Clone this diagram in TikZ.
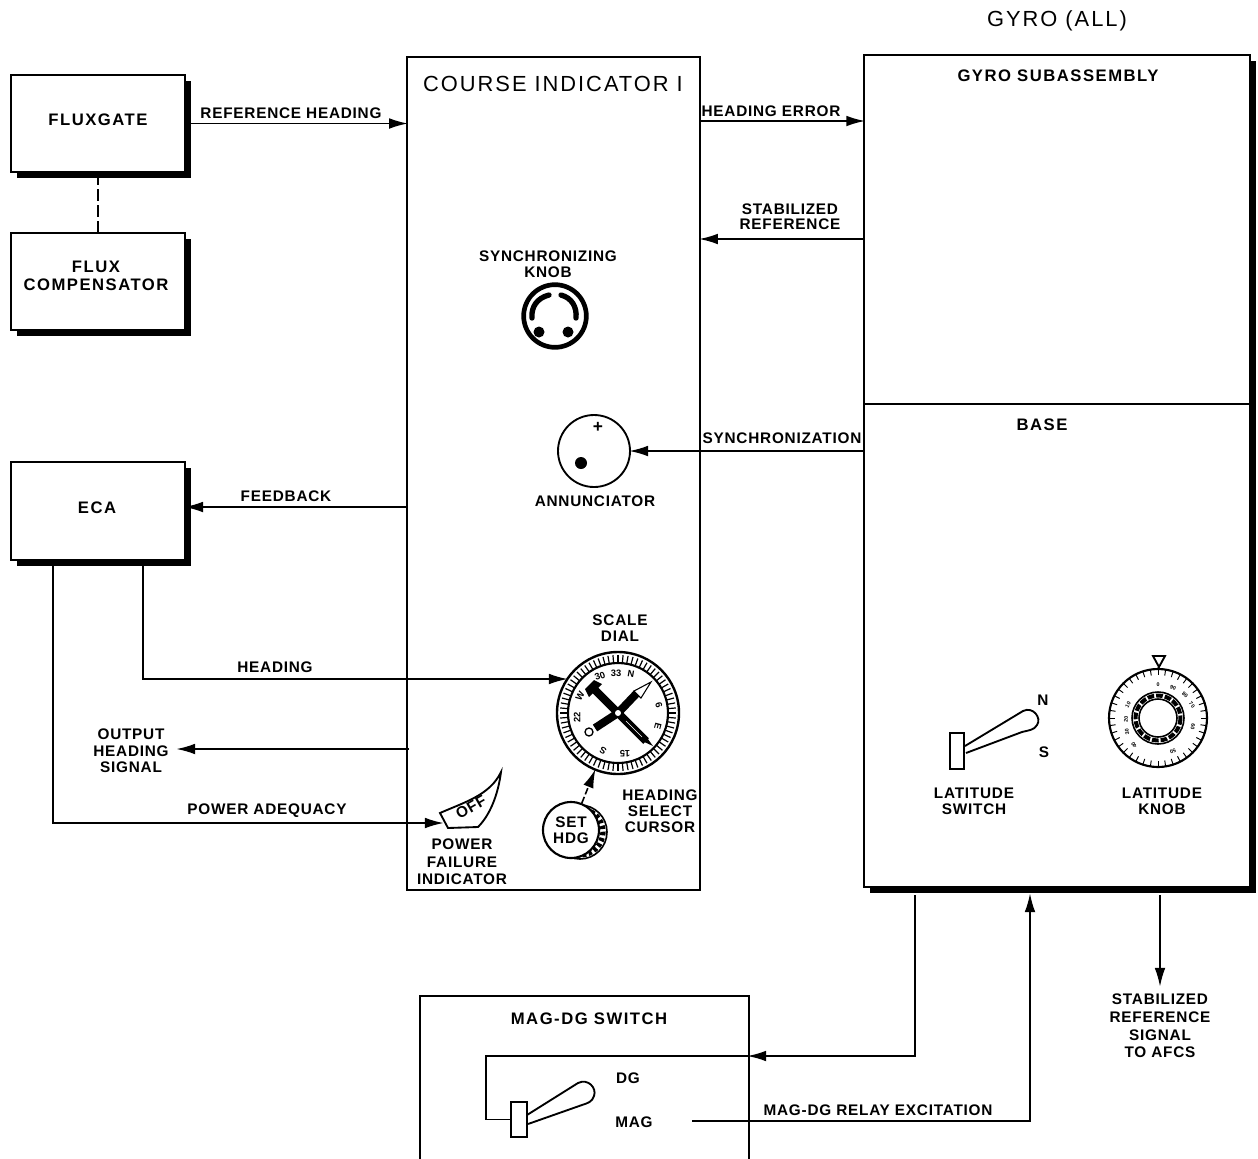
\documentclass[tikz,border=0pt]{standalone}
\usepackage{fontspec}
\setmainfont{Liberation Sans}
\newfontfamily\lblfont[LetterSpace=5]{Liberation Sans}
\newfontfamily\ttlfont[LetterSpace=9]{Liberation Sans}
\usetikzlibrary{positioning,arrows.meta,shadows}
\tikzset{
box/.style={draw, line width=1.4pt, fill=white, minimum width=130.5pt, minimum height=73pt},
shadowbox/.style={box, general shadow={shadow xshift=4.5pt, shadow yshift=-4.5pt, fill=black}},
lbl/.style={font=\lblfont\bfseries\fontsize{11.5}{12}\selectfont, align=center, inner sep=0pt},
ttl/.style={lbl, font=\ttlfont\bfseries\fontsize{12.5}{13.5}\selectfont},
bigttl/.style={lbl, font=\ttlfont\fontsize{16.4}{17}\selectfont},
dialnum/.style={font=\bfseries\fontsize{7}{8}\selectfont, inner sep=0pt},
knobnum/.style={font=\bfseries\fontsize{4}{5}\selectfont, inner sep=0pt},
arrow/.style={-{Latex[length=14pt,width=8pt]}, line width=1.2pt, shorten >=-1.2pt},
wire/.style={line width=1.2pt}
}

\begin{document}
\begin{tikzpicture}[x=0.75pt,y=-0.75pt,node distance=44pt]
\path[use as bounding box,clip] (0,0) rectangle (1258,1158);
% boxes
\node[shadowbox](fluxgate) at (98,123.5){};
\node[shadowbox,below=of fluxgate](comp){};
\node[shadowbox](eca) at (98,511){};
\node[box,minimum width=219.5pt,minimum height=625pt](ci) at (553.5,473.5){};
\node[shadowbox,minimum width=289pt,minimum height=624pt](gyro) at (1057,471){};
\node[box,minimum width=247pt,minimum height=170pt](magsw) at (584.5,1109){};
\draw[wire](gyro.west |- 0,404)--(gyro.east |- 0,404);
% box titles
\node[ttl](fluxgatetxt) at (98,120){FLUXGATE};
\node[ttl](comptxt) at (96,276){FLUX\\COMPENSATOR};
\node[ttl](ecatxt) at (97,508){ECA};
\node[bigttl](citxt) at (553,84){COURSE INDICATOR I};
\node[bigttl](gyroall) at (1057,21){GYRO (ALL)};
\node[ttl](gyrosub) at (1058,76){GYRO SUBASSEMBLY};
\node[ttl](basetxt) at (1042,425){BASE};
\node[ttl](magtxt) at (589,1019){MAG-DG SWITCH};
% controls on course indicator
\node[lbl](synctxt) at (548,264){SYNCHRONIZING\\KNOB};
\node[draw,circle,line width=3.5pt,minimum size=47pt,inner sep=0pt](syncknob) at (555,316){};
\draw[line width=4pt,line cap=round](549,295) .. controls (537,298) and (531,307) .. (532,318);
\draw[line width=4pt,line cap=round](561,295) .. controls (572,298) and (577,307) .. (576,318);
\fill(539,332) circle (5.5) (568,332) circle (5.5);
\node[draw,circle,line width=1.4pt,minimum size=54pt,inner sep=0pt](ann) at (594,451){};
\node[font=\bfseries\fontsize{13}{13}\selectfont,inner sep=0pt](annplus) at (598,427){+};
\fill(581,463) circle (6);
\node[lbl](anntxt) at (595,501){ANNUNCIATOR};
\node[lbl](dialtxt) at (620,628){SCALE\\DIAL};
% scale dial
\node[draw,circle,line width=1.8pt,minimum size=91.5pt,inner sep=0pt](dial) at (618,713){};
\begin{scope}[shift={(618,713)}]
\draw[line width=1.6pt](0,0) circle (50);
\foreach \a in {0,5,...,355}
\draw[line width=.9pt](\a:50)--(\a:58);
\draw[line width=6pt](0,0)--(28,28);
\draw[line width=6pt](0,0)--(-26,-26);
\draw[line width=6pt](0,0)--(19,-20);
\draw[line width=6pt](0,0)--(-23,15);
\fill(-33,-24)--(-24,-33)--(-16,-29)--(-29,-16)--cycle;
\fill[white,draw=black,line width=.8pt](16,-22)--(33,-31)--(23,-15)--cycle;
\draw[line width=1pt,fill=white](-29,19) circle (4);
\fill(27,22)--(35,33)--(22,27)--cycle;
\draw[white,line width=.5pt](8,8)--(24,24);
\fill[white](0,0) circle (3);
\end{scope}
\foreach \t/\px/\py/\r in {33/616/673/0,N/631/674/-10,30/600/676/20,W/580/696/60,22/577/717/90,S/603/751/150,15/625/754/180,E/658/726/-105,6/659/705/-75}
\node[dialnum,rotate=\r](dn\t) at (\px,\py){\t};
% set knob
\draw[line width=1.2pt](580,832) circle (27);
\draw[line width=4pt,dash pattern=on 2.5pt off 2pt](580,832) circle (23);
\node[draw,circle,line width=1.6pt,fill=white,minimum size=42pt,inner sep=0pt,lbl](setknob) at (571,830){SET\\HDG};
\node[lbl](cursortxt) at (660,811){HEADING\\SELECT\\CURSOR};
\draw[arrow,dash pattern=on 5pt off 2pt](setknob)--(dial);
% power failure flag
\draw[line width=1.4pt](440,813) .. controls (465,802) and (490,795) .. (501,772) .. controls (498,795) and (490,815) .. (478,827)--(448,828)--cycle;
\node[lbl,rotate=30](offtxt) at (471,807){OFF};
\coordinate(offin) at (442,823);
\node[lbl,font=\lblfont\bfseries\fontsize{11.5}{13}\selectfont](pwrtxt) at (462,862){POWER\\FAILURE\\INDICATOR};
% latitude switch and knob
\node[draw,line width=1.4pt,minimum width=11pt,minimum height=27pt,inner sep=0pt](latbase) at (957,751){};
\draw[line width=1.4pt](965,746)--(1023,711) .. controls (1033,706) and (1042,718) .. (1037,725) .. controls (1034,730) and (1030,730) .. (1022,732)--(966,753);
\node[lbl](nmark) at (1043,700){N};
\node[lbl](smark) at (1044,752){S};
\node[lbl](latsw) at (974,801){LATITUDE\\SWITCH};
\node[lbl](latkn) at (1162,801){LATITUDE\\KNOB};
\node[draw,circle,line width=1.6pt,minimum size=73.5pt,inner sep=0pt](knob) at (1158,718){};
\begin{scope}[shift={(1158,718)}]
\foreach \a in {0,9,...,351}
\draw[line width=.7pt](\a:49)--(\a:43);
\draw[line width=1.2pt](0,0) circle (26) (0,0) circle (19);
\draw[line width=3pt,dash pattern=on 5pt off 1.5pt](0,0) circle (22.5);
\end{scope}
\foreach \t/\px/\py/\r in {0/1158/685/0,90/1173/688/-20,80/1185/695/-35,70/1192/705/-50,60/1193/727/-100,50/1173/751/-155,10/1128/705/60,20/1126/719/85,30/1127/732/100,40/1134/745/120}
\node[knobnum,rotate=\r](kn\t) at (\px,\py){\t};
\draw[line width=1.4pt](1153,656)--(1165,656)--(1159,667)--cycle;
\draw[wire](1159,667)--(knob.north);
% mag-dg switch
\node[draw,line width=1.4pt,fill=white,minimum width=12pt,minimum height=26pt,inner sep=0pt](mswbase) at (519,1119.5){};
\draw[line width=1.4pt](527,1115)--(578,1083) .. controls (588,1078) and (597,1088) .. (594,1096) .. controls (592,1102) and (588,1103) .. (582,1105)--(528,1124);
\node[lbl](dgtxt) at (628,1078){DG};
\node[lbl](magsel) at (634,1122){MAG};
% connectors
\coordinate(heout) at (700,121);
\coordinate(stabout) at (864,239);
\coordinate(syncout) at (864,451);
\coordinate(fbout) at (407,507);
\coordinate(hdgout) at (143,566);
\coordinate(hdgin) at (566,679);
\coordinate(pwrout) at (53,566);
\coordinate(outsig) at (409,749);
\coordinate(outtip) at (178,749);
\coordinate(dgout) at (915,895);
\coordinate(dgin) at (749,1056);
\coordinate(dgturn) at (486,1119.5);
\coordinate(magout) at (692,1121);
\coordinate(magin) at (1030,895);
\coordinate(stabsig) at (1160,895);
\coordinate(stabtip) at (1160,985);
\draw[arrow](fluxgate.east)--(fluxgate.east -| ci.west);
\draw[wire,dash pattern=on 9pt off 3pt](fluxgate.south)--(comp.north);
\draw[arrow](heout)--(heout -| gyro.west);
\draw[arrow](stabout)--(stabout -| ci.east);
\draw[arrow](syncout)--(ann.east);
\draw[arrow](fbout)--(fbout -| eca.east);
\draw[arrow](hdgout)|-(hdgin);
\draw[arrow](pwrout)|-(offin);
\draw[arrow](outsig)--(outtip);
\draw[arrow](dgout)|-(dgin);
\draw[wire](dgin)-|(dgturn)--(mswbase.west);
\draw[arrow](magout)-|(magin);
\draw[arrow](stabsig)--(stabtip);
% connector labels
\node[lbl](refhdg) at (291,113){REFERENCE HEADING};
\node[lbl](heerr) at (771,111){HEADING ERROR};
\node[lbl,font=\lblfont\bfseries\fontsize{11.5}{11.3}\selectfont](stabref) at (790,217){STABILIZED\\REFERENCE};
\node[lbl](synclbl) at (782,438){SYNCHRONIZATION};
\node[lbl](fblbl) at (286,496){FEEDBACK};
\node[lbl](hdglbl) at (275,667){HEADING};
\node[lbl,font=\lblfont\bfseries\fontsize{11.5}{12.5}\selectfont](outlbl) at (131,751){OUTPUT\\HEADING\\SIGNAL};
\node[lbl](pwrlbl) at (267,811){POWER ADEQUACY};
\node[lbl](rellbl) at (878,1110){MAG-DG RELAY EXCITATION};
\node[lbl,font=\lblfont\bfseries\fontsize{11.5}{13.2}\selectfont](afcslbl) at (1160,1026){STABILIZED\\REFERENCE\\SIGNAL\\TO AFCS};
\end{tikzpicture}
\end{document}
